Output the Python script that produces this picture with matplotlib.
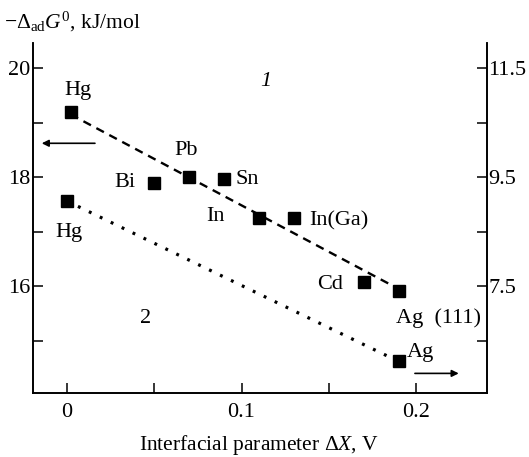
import matplotlib
matplotlib.use('Agg')
from matplotlib import pyplot as plt
from matplotlib.ticker import MultipleLocator

plt.rcParams['font.family'] = ['Liberation Serif', 'DejaVu Serif']
plt.rcParams['mathtext.fontset'] = 'custom'
plt.rcParams['mathtext.rm'] = 'Liberation Serif'
plt.rcParams['mathtext.it'] = 'Liberation Serif:italic'

# series 1 (left axis, kJ/mol)
metals1 = ["Hg", "Bi", "Pb", "Sn", "In", "In(Ga)", "Cd", "Ag  (111)"]
dx1 = [0.002, 0.05, 0.07, 0.09, 0.11, 0.13, 0.17, 0.19]
g1 = [19.2, 17.89, 18.0, 17.96, 17.25, 17.25, 16.07, 15.91]
fit1_x = [0.002, 0.19]
fit1_y = [19.15, 15.95]

# series 2 (right axis)
metals2 = ["Hg", "Ag"]
dx2 = [0.0, 0.19]
g2 = [9.06, 6.12]

offset = 8.5  # right axis = left axis - offset

fig = plt.figure(figsize=(5.29, 4.57), dpi=100)
ax = fig.add_axes([0.0624, 0.140, 0.8582, 0.766])
ax2 = ax.twinx()

ax.set_xlim(-0.0195, 0.2407)
ax.set_ylim(14.04, 20.46)
ax2.set_ylim(14.04 - offset, 20.46 - offset)

ax.plot(fit1_x, fit1_y, color='black', lw=1.7, ls=(0, (3.6, 2.6)), zorder=2)
ax.plot(dx1, g1, 's', color='black', ms=8, zorder=3)
ax2.plot(dx2, g2, color='black', lw=2.3, dashes=(0.9, 2.9))
ax2.plot(dx2, g2, 's', color='black', ms=8, ls='none')

for a in (ax, ax2):
    a.spines['top'].set_visible(False)
    for s in a.spines.values():
        s.set_linewidth(1.2)

ax.xaxis.set_minor_locator(MultipleLocator(0.05))
ax.yaxis.set_major_locator(MultipleLocator(2))
ax.yaxis.set_minor_locator(MultipleLocator(1))
ax2.yaxis.set_major_locator(MultipleLocator(2, offset=1.5))
ax2.yaxis.set_minor_locator(MultipleLocator(1, offset=0.5))
ax.set_xticks([0, 0.1, 0.2])
ax.set_xticklabels(["0", "0.1", "0.2"])

ax.tick_params(which='both', direction='in', length=7, width=1.1, labelsize=16)
ax.tick_params(axis='x', pad=7)
ax.tick_params(axis='y', pad=2)
ax2.tick_params(which='both', direction='in', length=7, width=1.1, labelsize=16, pad=1)

# point labels
fs = 16
ax.text(0.006, 19.58, "Hg", fontsize=fs, ha='center', va='center')
ax.text(0.068, 18.48, "Pb", fontsize=fs, ha='center', va='center')
ax.text(0.033, 17.91, "Bi", fontsize=fs, ha='center', va='center')
ax.text(0.0965, 17.96, "Sn", fontsize=fs, ha='left', va='center')
ax.text(0.085, 17.28, "In", fontsize=fs, ha='center', va='center')
ax.text(0.139, 17.2, "In(Ga)", fontsize=fs, ha='left', va='center')
ax.text(0.151, 16.03, "Cd", fontsize=fs, ha='center', va='center')
ax.text(0.1885, 15.42, "Ag  (111)", fontsize=fs, ha='left', va='center')
ax.text(0.0012, 16.99, "Hg", fontsize=fs, ha='center', va='center')
ax.text(0.1945, 14.78, "Ag", fontsize=fs, ha='left', va='center')
ax.text(0.114, 19.75, "1", fontsize=fs, style='italic', ha='center', va='center')
ax.text(0.045, 15.4, "2", fontsize=fs, ha='center', va='center')

# arrows pointing to the axis each series uses
ax.annotate("", xy=(-0.0145, 18.62), xytext=(0.016, 18.62),
            arrowprops=dict(arrowstyle='-|>', color='black', lw=1.2,
                            mutation_scale=10, shrinkA=0, shrinkB=0))
ax.annotate("", xy=(0.2245, 14.40), xytext=(0.1994, 14.40),
            arrowprops=dict(arrowstyle='-|>', color='black', lw=1.2,
                            mutation_scale=10, shrinkA=0, shrinkB=0))

fig.text(0.008, 0.953, r"$-\Delta_{\mathrm{ad}}G^{0}$, kJ/mol", fontsize=15.5,
         ha='left', va='center')
fig.text(0.49, 0.027, r"Interfacial parameter $\Delta X$, V", fontsize=15.5,
         ha='center', va='center')

fig.savefig('out.png', dpi=100)
